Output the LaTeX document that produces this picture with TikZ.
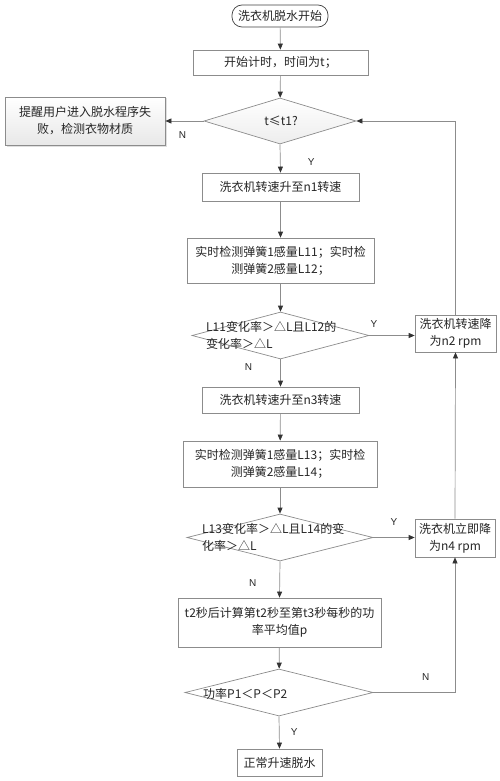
\documentclass[tikz,border=0pt]{standalone}
\usepackage{fontspec}
\setmainfont{Noto Sans CJK SC}
\newfontfamily\latinsans{Liberation Sans}
\usetikzlibrary{shapes.geometric,arrows.meta,shadows}
\definecolor{edgegray}{HTML}{8C8C8C}
\definecolor{tipgray}{HTML}{333333}
\begin{document}
\begin{tikzpicture}[x=1pt,y=-1pt,
  every node/.style={font=\fontsize{12}{17}\selectfont, text=black!85},
  procbox/.style={draw=edgegray, fill=white, rectangle, inner sep=0pt, align=center, line width=0.7pt},
  startbox/.style={draw=black!75, fill=white, rounded corners=10pt, inner sep=0pt, line width=0.7pt},
  decbox/.style={draw=edgegray, fill=white, diamond, inner sep=0pt, line width=0.7pt},
  dectext/.style={align=left, inner sep=0pt, anchor=west},
  conn/.style={draw=edgegray, line width=0.7pt, -{Triangle[length=6pt,width=5pt,color=tipgray]}},
  lab/.style={font=\latinsans\fontsize{10}{12}\selectfont, text=black!85, inner sep=0pt}
]
\useasboundingbox (0,0) rectangle (500,781);

\node[startbox, minimum width=96pt, minimum height=22pt] (start) at (280,16) {洗衣机脱水开始};
\node[procbox, minimum width=175pt, minimum height=25pt] (b1) at (280.5,62.5) {开始计时，时间为t；};
\node[decbox, minimum width=152pt, minimum height=46pt, top color=white, bottom color=black!7] (d1) at (280,121) {};
\node[inner sep=0pt] (d1t) at (281,121) {t≤t1?};
\node[procbox, minimum width=160pt, minimum height=48pt, top color=white, bottom color=black!9,
      drop shadow={opacity=0.25, shadow xshift=1.5pt, shadow yshift=-1.5pt}] (fail) at (85,121)
      {提醒用户进入脱水程序失\\败，检测衣物材质};

\node[procbox, minimum width=157pt, minimum height=28pt] (bn1) at (280.5,187) {洗衣机转速升至n1转速};
\node[procbox, minimum width=187pt, minimum height=45pt] (bL12) at (280.5,260.5) {实时检测弹簧1感量L11；实时检\\测弹簧2感量L12；};
\node[decbox, minimum width=177pt, minimum height=47pt] (d2) at (280.5,335.5) {};
\node[dectext] (d2t) at (206,335) {L11变化率＞△L且L12的\\变化率＞△L};
\node[procbox, minimum width=81pt, minimum height=37pt] (r1) at (455.5,333.5) {洗衣机转速降\\为n2 rpm};

\node[procbox, minimum width=157pt, minimum height=26pt] (bn3) at (280.5,400) {洗衣机转速升至n3转速};
\node[procbox, minimum width=194pt, minimum height=46pt] (bL14) at (280,464) {实时检测弹簧1感量L13；实时检\\测弹簧2感量L14；};
\node[decbox, minimum width=186pt, minimum height=47pt] (d3) at (280,537.5) {};
\node[dectext] (d3t) at (202,537) {L13变化率＞△L且L14的变\\化率＞△L};
\node[procbox, minimum width=80pt, minimum height=38pt] (r2) at (455,538) {洗衣机立即降\\为n4 rpm};

\node[procbox, minimum width=203pt, minimum height=49pt] (bt2) at (279.5,622.5) {t2秒后计算第t2秒至第t3秒每秒的功\\率平均值p};
\node[decbox, minimum width=188pt, minimum height=47pt] (d4) at (279,692.5) {};
\node[dectext] (d4t) at (203,694) {功率P1＜P＜P2};
\node[procbox, minimum width=85pt, minimum height=27pt] (fin) at (279.5,762.5) {正常升速脱水};

\draw[conn] (start) -- (b1);
\draw[conn] (b1) -- (d1);
\draw[conn] (d1.west) -- (fail.east) node[lab, pos=0.55, yshift=-14pt] {N};
\draw[conn] (d1.south) -- (bn1.north) node[lab, pos=0.62, xshift=31pt] {Y};
\draw[conn] (bn1) -- (bL12);
\draw[conn] (bL12) -- (d2);
\draw[conn] (d2.east) -- (r1.west |- d2.east) node[lab, pos=0.1, yshift=11pt] {Y};
\draw[conn] (r1.north) |- (d1.east);
\draw[conn] (d2.south) -- (bn3.north) node[lab, pos=0.3, xshift=-32pt] {N};
\draw[conn] (bn3) -- (bL14);
\draw[conn] (bL14) -- (d3);
\draw[conn] (d3.east) -- (r2.west |- d3.east) node[lab, pos=0.5, yshift=15pt] {Y};
\draw[conn] (r2.north) -- (r1.south);
\draw[conn] (d3.south) -- (bt2.north) node[lab, pos=0.6, xshift=-27pt] {N};
\draw[conn] (bt2) -- (d4);
\draw[conn] (d4.east) -| (r2.south) node[lab, pos=0.32, yshift=15pt] {N};
\draw[conn] (d4.south) -- (fin.north) node[lab, pos=0.5, xshift=15pt] {Y};
\end{tikzpicture}
\end{document}
